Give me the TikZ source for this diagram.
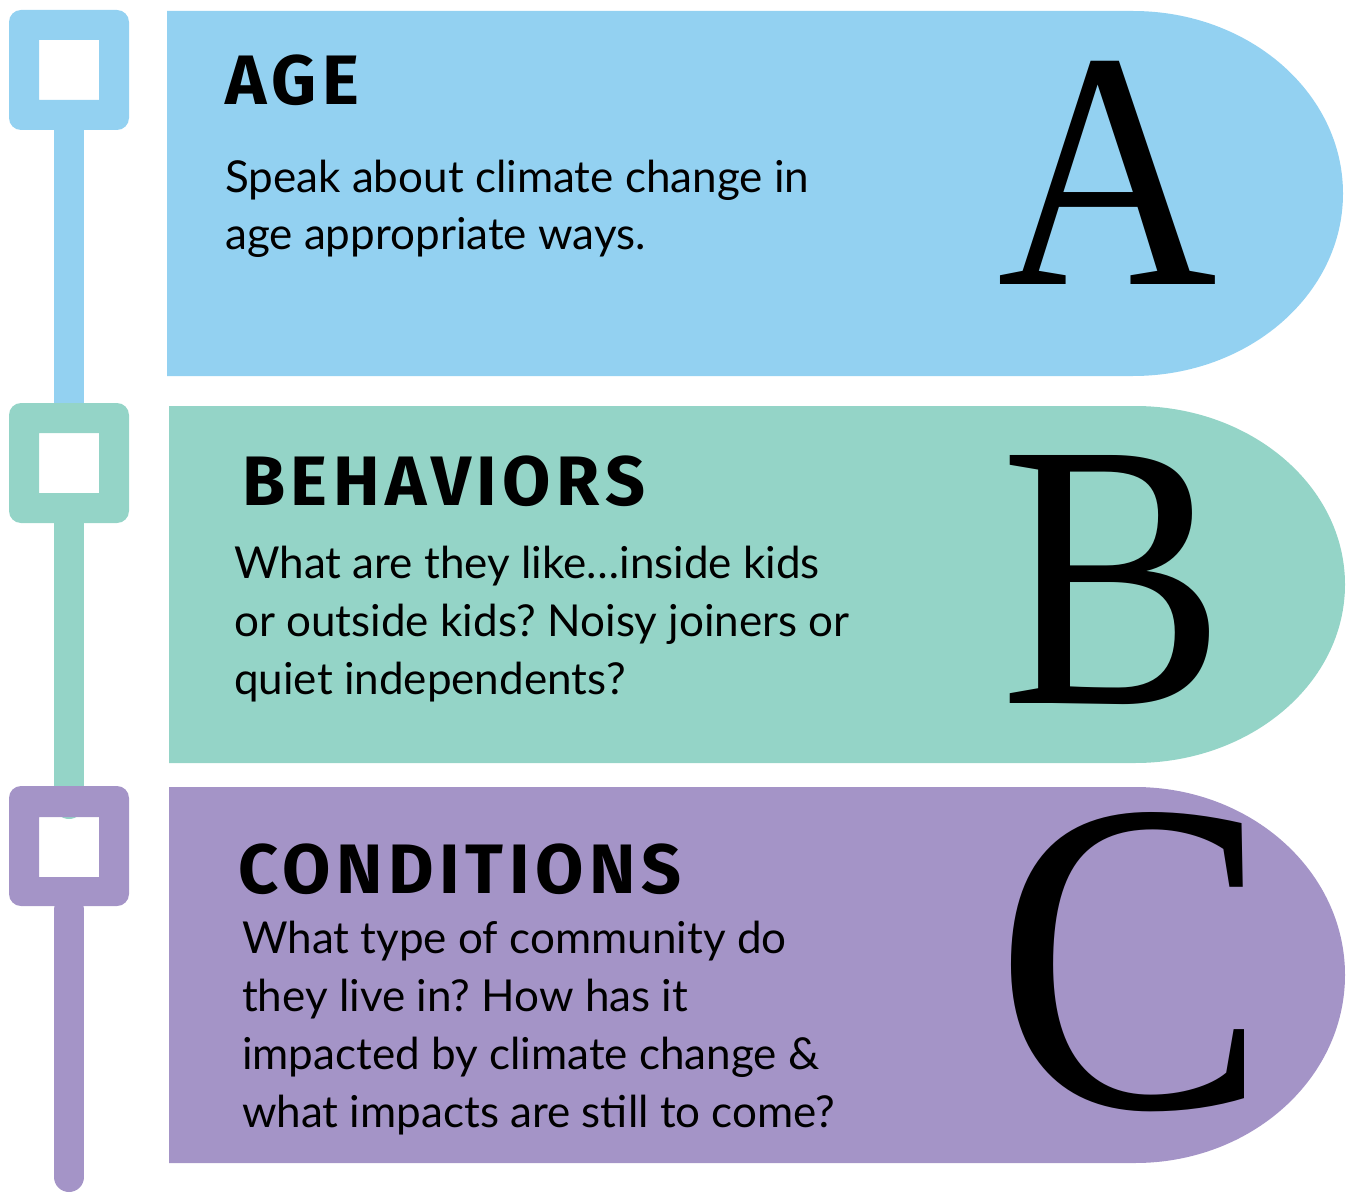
\documentclass[tikz,border=0pt]{standalone}
\usepackage{tikz}
\usepackage{fontspec}
\usepackage{xcolor}
\setmainfont{Lato}
\newfontfamily\headfont{Fira Sans}[LetterSpace=8]
\newfontfamily\letterfont{Liberation Serif}
\frenchspacing

\definecolor{ageblue}{HTML}{93D1F1}
\definecolor{behgreen}{HTML}{94D4C7}
\definecolor{condpurple}{HTML}{A494C7}

\tikzset{
    heading/.style={anchor=base west, inner sep=0pt, font=\headfont\bfseries\fontsize{70}{70}\selectfont},
    bodytext/.style={anchor=base west, inner sep=0pt, align=left, font=\fontsize{44}{58}\selectfont},
    bigletter/.style={anchor=south west, inner sep=0pt, font=\letterfont},
    stem/.style={line width=30pt, line cap=round}
}

\begin{document}
\begin{tikzpicture}[x=1pt, y=-1pt]
    \useasboundingbox (0,0) rectangle (1352,1193);

    % Draw the timeline stems
    \draw[stem, ageblue] (69,125) -- (69,408);
    \draw[stem, behgreen] (69,520) -- (69,804);
    \draw[stem, condpurple] (69,910) -- (69,1177);

    % Draw the square markers
    \fill[ageblue, even odd rule] [rounded corners=12pt] (9,10) rectangle (129,130) [sharp corners] (39,40) rectangle (99,100);
    \fill[behgreen, even odd rule] [rounded corners=12pt] (9,403) rectangle (129,523) [sharp corners] (39,433) rectangle (99,493);
    \fill[condpurple, even odd rule] [rounded corners=12pt] (9,786) rectangle (129,906) [sharp corners] (39,817) rectangle (99,877);

    % Draw the banners
    \fill[ageblue] (167,11) -- (1133,11) arc[start angle=-90, end angle=90, x radius=210, y radius=182.5] -- (167,376) -- cycle;
    \fill[behgreen] (169,406) -- (1135,406) arc[start angle=-90, end angle=90, x radius=210, y radius=178.5] -- (169,763) -- cycle;
    \fill[condpurple] (169,787) -- (1135,787) arc[start angle=-90, end angle=90, x radius=210, y radius=188] -- (169,1163) -- cycle;

    % Add headings and descriptions (base = last line)
    \node[heading] (ageHead) at (225,105) {AGE};
    \node[bodytext] (ageText) at (225,250) {Speak about climate change in\\age appropriate ways.};

    \node[heading] (behHead) at (242,505) {BEHAVIORS};
    \node[bodytext] (behText) at (234,694) {What are they like\ldots inside kids\\or outside kids? Noisy joiners or\\quiet independents?};

    \node[heading] (condHead) at (238,893) {CONDITIONS};
    \node[bodytext] (condText) at (242,1127) {What type of community do\\they live in? How has it\\impacted by climate change \&\\what impacts are still to come?};

    % Add the big letters
    \node[bigletter] (ageLetter) at (997,285) {\resizebox{220pt}{223pt}{A}};
    \node[bigletter] (behLetter) at (1000,705) {\resizebox{225pt}{248pt}{B}};
    \begin{scope}
        \clip (990,790) rectangle (1243,1130);
        \node[bigletter, anchor=north west] (condLetter) at (994,812) {\resizebox*{275pt}{298pt}{C}};
    \end{scope}
\end{tikzpicture}
\end{document}
